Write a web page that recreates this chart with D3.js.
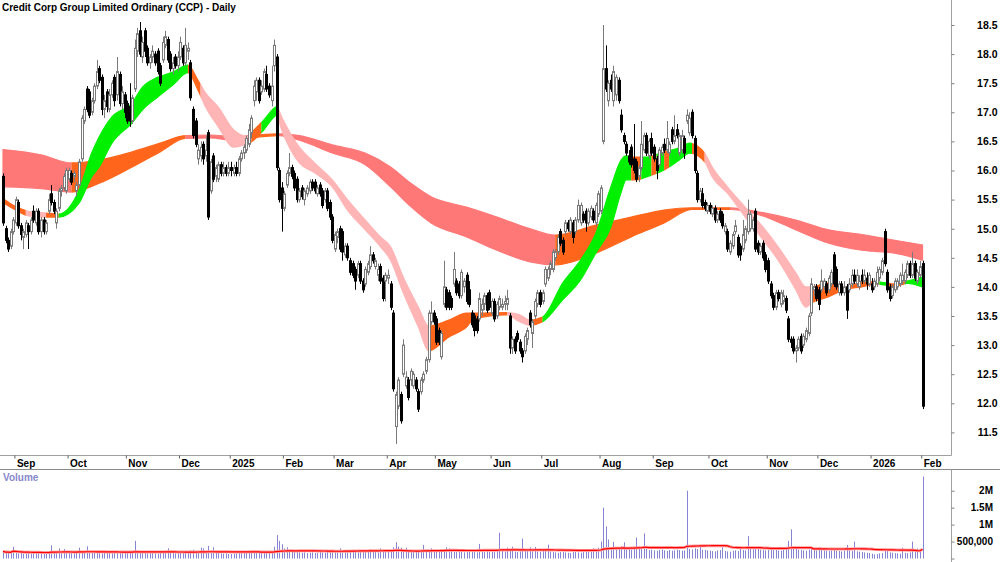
<!DOCTYPE html>
<html>
<head>
<meta charset="utf-8">
<script src="https://cdn.jsdelivr.net/npm/d3@7"></script>
<style>
  body { margin: 0; background: #fff; }
  svg text { font-family: Arial, "Liberation Sans", sans-serif; font-weight: bold; }
</style>
</head>
<body>
<svg id="chart" width="1000" height="562"></svg>
<script>
// trading days per month shown (first month is the partial lead-in, not labelled)
var monthLabels = ['Aug','Sep','Oct','Nov','Dec','2025','Feb','Mar','Apr','May','Jun','Jul','Aug','Sep','Oct','Nov','Dec','2026','Feb'];
var monthDays   = [5,21,23,21,20,21,20,21,19,22,20,23,21,22,23,20,21,20,1];

// daily [open, high, low, close]
var candles = [
  // Aug 2024
  [15.9,15.95,15.05,15.1],[15.0,15.05,14.75,14.8],[14.8,14.85,14.6,14.65],[14.7,15.0,14.65,14.95],[14.95,15.2,14.9,15.15],
  // Sep
  [15.1,15.55,15.05,15.5],[15.45,15.5,15.0,15.05],[15.05,15.1,14.8,14.9],[14.85,15.0,14.65,14.95],[14.9,15.15,14.85,15.1],
  [15.05,15.1,14.65,14.95],[14.95,15.2,14.9,15.15],[15.3,15.4,15.1,15.15],[15.1,15.35,15.05,15.3],[15.3,15.35,14.9,14.95],
  [14.95,15.2,14.85,15.15],[15.15,15.2,14.9,14.95],[14.95,15.15,14.9,15.1],[15.3,15.6,15.25,15.5],[15.6,15.75,15.4,15.45],
  [15.45,15.5,15.25,15.3],[15.1,15.35,15.0,15.3],[15.35,15.7,15.3,15.65],[15.65,15.75,15.55,15.7],[15.7,15.95,15.65,15.9],
  [15.65,16.05,15.6,16.0],
  // Oct
  [15.85,16.05,15.8,16.0],[15.95,16.0,15.75,15.8],[15.9,16.0,15.8,15.95],[15.65,15.8,15.55,15.75],[15.75,16.2,15.7,16.15],
  [16.2,16.95,16.15,16.9],[16.85,17.1,16.8,17.05],[17.4,17.45,17.0,17.05],[17.35,17.4,16.9,16.95],[17.0,17.25,16.95,17.2],
  [17.2,17.5,17.15,17.45],[17.45,17.9,17.4,17.7],[17.75,17.8,17.5,17.55],[17.6,17.65,16.95,17.05],[17.05,17.3,16.9,17.2],
  [17.35,17.4,17.0,17.1],[17.05,17.4,17.0,17.3],[17.3,17.55,17.25,17.5],[17.6,17.65,17.1,17.2],[17.3,17.95,17.2,17.7],
  [17.65,17.7,17.1,17.15],[17.15,17.45,17.05,17.35],[17.3,17.35,16.9,17.0],
  // Nov
  [17.15,17.2,16.8,16.85],[17.1,17.5,16.75,16.85],[16.85,17.3,16.8,17.25],[17.4,18.25,17.35,18.1],[18.05,18.45,17.95,18.35],
  [18.4,18.55,17.95,18.0],[17.95,18.3,17.85,18.2],[18.4,18.45,17.95,18.05],[18.1,18.15,17.8,17.85],[17.85,18.0,17.75,17.95],
  [17.95,18.15,17.85,18.05],[18.0,18.05,17.8,17.85],[18.05,18.1,17.65,17.7],[17.8,17.85,17.45,17.5],[17.9,18.3,17.85,18.2],
  [18.15,18.4,18.1,18.3],[18.25,18.3,17.85,17.9],[18.0,18.05,17.7,17.75],[17.75,17.95,17.65,17.85],[17.95,18.0,17.75,17.8],
  [17.8,18.05,17.7,17.95],
  // Dec
  [17.95,18.3,17.9,18.2],[18.1,18.15,17.8,17.85],[17.85,18.45,17.8,18.15],[18.05,18.2,17.9,18.1],[17.85,17.9,17.2,17.25],
  [17.05,17.1,16.55,16.6],[16.85,16.9,16.4,16.45],[16.2,16.45,16.1,16.35],[16.25,16.5,16.15,16.4],[16.45,16.5,16.1,16.2],
  [16.25,16.6,16.15,16.35],[16.65,16.7,15.15,15.2],[15.65,16.2,15.6,16.15],[16.25,16.3,15.8,15.85],[15.9,16.1,15.8,16.05],
  [15.85,16.15,15.8,16.1],[16.1,16.15,15.9,15.95],[15.95,16.15,15.9,16.05],[16.05,16.1,15.9,15.95],[15.95,16.15,15.9,16.05],
  // Jan 2025
  [16.05,16.15,15.9,16.0],[15.95,16.1,15.9,16.05],[16.05,16.15,15.9,15.95],[15.95,16.25,15.9,16.2],[16.2,16.35,16.15,16.3],
  [16.3,16.45,16.2,16.4],[16.35,16.6,16.3,16.55],[16.45,16.8,16.4,16.7],[16.65,16.95,16.55,16.9],[17.2,17.55,17.1,17.45],
  [17.35,17.6,17.2,17.55],[17.55,17.6,17.15,17.2],[17.35,17.55,17.3,17.45],[17.4,17.75,17.35,17.7],[17.65,17.8,17.35,17.4],
  [17.45,17.5,17.25,17.3],[17.2,17.8,17.1,17.45],[17.8,18.25,17.7,18.15],[17.95,18.0,16.0,16.05],[16.0,16.05,15.45,15.5],
  [15.7,15.8,14.95,15.35],
  // Feb
  [15.35,15.65,15.3,15.6],[15.75,16.0,15.7,15.95],[15.95,16.3,15.9,16.05],[16.05,16.1,15.85,15.9],[15.95,16.0,15.65,15.7],
  [15.85,15.9,15.45,15.5],[15.5,15.7,15.45,15.65],[15.7,15.75,15.5,15.55],[15.5,15.7,15.4,15.65],[15.6,15.75,15.55,15.7],
  [15.65,15.85,15.6,15.8],[15.8,15.85,15.65,15.7],[15.8,15.85,15.6,15.65],[15.6,15.75,15.55,15.7],[15.75,15.8,15.55,15.6],
  [15.65,15.7,15.35,15.4],[15.5,15.7,15.45,15.65],[15.65,15.7,15.3,15.35],[15.45,15.5,15.15,15.2],[15.2,15.25,14.75,14.8],
  // Mar
  [14.65,14.95,14.6,14.9],[14.85,15.0,14.75,14.95],[15.0,15.05,14.6,14.65],[14.95,15.0,14.45,14.6],[14.55,14.75,14.5,14.7],
  [14.7,14.75,14.45,14.5],[14.45,14.5,14.2,14.25],[14.4,14.45,14.15,14.2],[14.3,14.35,13.95,14.1],[14.2,14.45,14.15,14.4],
  [14.4,14.45,14.05,14.1],[14.1,14.15,13.9,13.95],[14.05,14.35,14.0,14.3],[14.25,14.45,14.2,14.4],[14.35,14.7,14.3,14.55],
  [14.55,14.6,14.4,14.45],[14.35,14.5,14.3,14.45],[14.2,14.4,14.1,14.3],[14.35,14.4,14.05,14.1],[14.15,14.2,13.75,13.8],
  [14.1,14.25,13.75,14.2],
  // Apr
  [14.15,14.3,14.05,14.2],[14.05,14.1,13.6,13.65],[13.55,13.6,12.2,12.25],[11.6,12.2,11.3,12.15],[11.95,12.45,11.9,12.4],
  [12.15,12.2,11.65,11.7],[12.5,13.1,12.45,13.0],[12.3,12.55,12.25,12.45],[12.4,12.45,12.05,12.1],[12.4,12.6,12.3,12.55],
  [12.3,12.55,12.25,12.5],[12.4,12.45,12.2,12.25],[12.2,12.25,11.85,11.9],[12.2,12.45,12.15,12.4],[12.4,12.55,12.35,12.5],
  [12.55,12.8,12.5,12.75],[12.75,13.6,12.7,13.55],[13.4,13.75,13.35,13.55],[13.55,13.6,13.35,13.4],
  // May
  [13.45,13.5,13.0,13.05],[13.25,13.3,13.0,13.05],[12.8,13.25,12.75,13.2],[13.7,14.45,13.65,14.0],[13.95,14.0,13.6,13.65],
  [13.9,13.95,13.6,13.65],[13.8,13.85,13.6,13.65],[14.05,14.6,14.0,14.3],[14.1,14.15,13.85,13.9],[14.05,14.1,13.8,13.85],
  [13.85,14.3,13.8,14.25],[14.0,14.15,13.9,14.1],[14.2,14.25,13.7,13.75],[13.95,14.1,13.65,13.7],[13.55,13.6,13.3,13.35],
  [13.5,13.55,13.15,13.25],[13.45,13.5,13.2,13.25],[13.45,13.9,13.4,13.8],[13.6,13.8,13.5,13.7],[13.7,13.9,13.6,13.85],
  [13.85,13.9,13.55,13.6],[13.9,13.95,13.6,13.65],
  // Jun
  [13.55,13.8,13.5,13.75],[13.75,13.8,13.4,13.45],[13.5,13.75,13.45,13.7],[13.65,13.85,13.6,13.8],[13.65,13.8,13.6,13.7],
  [13.7,13.85,13.6,13.75],[13.7,13.95,13.6,13.8],[13.5,13.55,12.85,12.95],[12.95,13.15,12.85,13.1],[13.1,13.15,12.85,12.9],
  [13.2,13.25,13.05,13.1],[13.05,13.1,12.85,12.9],[12.9,12.95,12.7,12.8],[12.9,13.2,12.85,13.15],[13.1,13.3,13.0,13.25],
  [13.55,13.6,13.3,13.35],[13.2,13.45,12.95,13.4],[13.5,13.8,13.45,13.75],[13.7,13.95,13.65,13.9],[13.9,13.95,13.65,13.7],
  // Jul
  [13.75,13.95,13.7,13.9],[14.05,14.35,14.0,14.3],[14.15,14.35,14.1,14.3],[14.3,14.45,14.2,14.4],[14.3,14.65,14.25,14.6],
  [14.5,14.65,14.45,14.6],[14.6,14.9,14.55,14.85],[14.95,15.0,14.7,14.75],[14.8,14.85,14.55,14.6],[14.95,15.15,14.9,15.1],
  [15.1,15.15,14.95,15.0],[14.95,15.2,14.9,15.15],[15.1,15.15,14.75,14.85],[14.95,15.2,14.9,15.15],[15.15,15.5,15.1,15.4],
  [15.1,15.45,15.05,15.4],[15.25,15.3,15.1,15.15],[15.3,15.35,14.95,15.1],[15.1,15.35,15.05,15.3],[15.2,15.4,15.15,15.35],
  [15.3,15.35,15.1,15.15],[15.1,15.45,15.05,15.4],[15.25,15.65,15.2,15.6],
  // Aug
  [15.3,15.75,15.25,15.7],[16.5,18.5,16.45,17.75],[17.75,18.15,17.35,17.4],[17.2,17.55,17.1,17.5],[17.55,17.65,17.35,17.4],
  [17.2,17.8,17.1,17.7],[17.3,17.65,17.2,17.6],[17.55,17.6,17.15,17.2],[16.95,17.05,16.65,16.7],[16.6,16.65,16.45,16.5],
  [16.45,16.5,16.25,16.3],[16.25,16.35,16.1,16.15],[16.4,16.45,16.05,16.1],[16.2,16.8,15.95,16.0],[16.15,16.2,15.8,15.85],
  [15.9,16.1,15.8,16.05],[16.05,16.85,16.0,16.45],[16.35,16.65,16.3,16.6],[16.6,16.65,16.25,16.3],[16.25,16.55,16.2,16.5],
  [16.55,16.65,16.25,16.3],
  // Sep
  [16.4,16.45,16.15,16.2],[16.2,16.25,15.85,16.0],[16.1,16.4,16.05,16.35],[16.3,16.45,16.25,16.4],[16.45,16.55,16.3,16.35],
  [16.35,16.85,16.3,16.55],[16.3,16.5,16.25,16.45],[16.7,16.75,16.45,16.5],[16.5,16.95,16.45,16.6],[16.7,16.8,16.55,16.6],
  [16.3,16.65,16.25,16.6],[16.35,16.7,16.3,16.6],[16.55,16.6,16.2,16.3],[16.85,17.05,16.8,16.95],[16.65,17.0,16.6,16.9],
  [17.0,17.05,16.55,16.6],[16.55,16.6,15.95,16.0],[15.95,16.0,15.45,15.5],[15.5,15.7,15.45,15.65],[15.6,15.7,15.35,15.4],
  [15.45,15.5,15.3,15.35],[15.3,15.45,15.25,15.4],
  // Oct
  [15.4,15.45,15.25,15.3],[15.25,15.4,15.2,15.35],[15.35,15.4,15.1,15.15],[15.15,15.3,15.1,15.25],[15.3,15.35,15.1,15.15],
  [15.25,15.3,15.0,15.05],[14.95,15.1,14.9,15.05],[14.95,15.0,14.6,14.65],[14.6,14.8,14.55,14.75],[14.7,14.95,14.65,14.9],
  [14.95,15.15,14.9,15.05],[14.85,14.9,14.5,14.55],[14.7,14.75,14.45,14.55],[14.65,15.15,14.6,14.9],[14.8,15.05,14.75,15.0],
  [14.95,15.5,14.9,15.25],[15.0,15.3,14.95,15.25],[15.0,15.2,14.95,15.15],[15.3,15.35,14.6,14.65],[14.75,14.8,14.55,14.6],
  [14.6,14.75,14.55,14.7],[14.75,14.8,14.45,14.5],[14.55,14.6,14.25,14.3],
  // Nov
  [14.45,14.5,14.05,14.1],[14.05,14.1,13.8,13.85],[13.85,13.9,13.6,13.65],[13.65,13.95,13.6,13.9],[13.9,13.95,13.75,13.8],
  [13.7,13.95,13.65,13.9],[13.75,13.95,13.7,13.85],[13.8,13.85,13.55,13.6],[13.45,13.5,13.05,13.1],[13.1,13.15,12.95,13.05],
  [13.1,13.15,12.85,12.9],[12.9,13.0,12.7,12.95],[12.95,13.15,12.9,13.1],[13.15,13.2,12.85,12.9],[13.0,13.2,12.95,13.15],
  [13.1,13.3,13.05,13.25],[13.2,13.55,13.15,13.5],[13.55,14.15,13.5,14.05],[13.95,14.05,13.85,14.0],[14.0,14.05,13.75,13.8],
  // Dec
  [13.95,14.0,13.6,13.7],[13.95,14.3,13.9,14.1],[14.0,14.15,13.95,14.1],[14.05,14.1,13.85,13.9],[13.95,14.2,13.9,14.15],
  [14.05,14.3,14.0,14.25],[14.55,14.6,14.0,14.05],[14.3,14.35,13.95,14.0],[13.9,14.1,13.85,14.05],[14.05,14.1,13.85,13.9],
  [13.9,14.1,13.85,14.0],[14.0,14.05,13.45,13.6],[13.95,14.15,13.9,14.05],[14.05,14.3,14.0,14.2],[14.2,14.3,14.05,14.1],
  [14.05,14.3,14.0,14.2],[14.0,14.2,13.95,14.1],[14.2,14.3,14.05,14.1],[14.1,14.3,14.05,14.2],[14.15,14.25,13.95,14.05],
  [14.05,14.25,14.0,14.2],
  // Jan 2026
  [14.05,14.15,13.9,13.95],[14.0,14.15,13.95,14.1],[14.05,14.35,14.0,14.25],[14.15,14.35,14.1,14.3],[14.25,14.5,14.2,14.45],
  [14.95,15.0,14.35,14.4],[14.25,14.3,13.9,13.95],[14.0,14.05,13.75,13.8],[13.85,14.05,13.8,14.0],[13.95,14.15,13.9,14.1],
  [14.0,14.15,13.95,14.1],[14.05,14.25,14.0,14.2],[14.1,14.4,14.05,14.2],[14.1,14.3,14.05,14.25],[14.2,14.45,14.15,14.4],
  [14.4,14.45,14.15,14.2],[14.2,14.6,14.15,14.4],[14.4,14.45,14.1,14.15],[14.1,14.3,14.05,14.25],[14.2,14.45,14.15,14.35],
  // Feb
  [14.4,14.45,11.9,11.95]
];

// daily volume, thousands of shares
var volumeK = [
  210,170,190,160,345,
  180,150,170,140,160,190,150,170,160,180,140,150,170,160,390,180,200,300,170,280,190,
  170,160,150,180,320,200,190,360,210,180,170,190,160,150,170,180,160,150,170,180,160,150,170,
  160,180,170,520,230,190,170,160,150,170,160,150,140,160,170,180,300,180,160,150,170,
  170,160,180,190,240,260,220,190,320,300,210,370,230,330,180,160,150,140,150,130,
  130,140,150,160,170,180,170,190,200,210,190,180,170,200,190,180,200,350,690,520,420,
  300,330,250,220,200,190,180,170,180,160,170,180,160,170,190,180,170,200,210,240,
  220,200,300,230,200,210,190,200,220,180,190,200,210,190,280,200,190,180,300,220,210,
  200,230,330,480,350,320,260,320,230,210,200,190,220,230,400,210,240,300,220,
  230,200,210,220,330,300,220,200,190,210,200,180,190,200,210,190,180,430,200,190,280,200,
  200,190,210,760,230,200,320,260,350,200,190,210,590,240,220,330,210,340,200,190,
  220,230,410,200,190,180,170,190,200,180,170,160,190,200,180,170,190,200,210,190,300,220,320,
  500,1500,950,560,330,490,330,300,360,480,280,300,260,350,620,360,300,740,280,250,260,
  240,230,250,260,240,220,250,230,240,260,250,230,240,2000,280,270,300,280,350,260,250,240,
  230,220,210,240,250,330,220,210,200,230,240,220,330,250,240,660,300,270,280,350,260,250,240,
  260,280,270,250,240,230,260,280,520,860,300,280,260,250,240,230,260,280,250,240,
  330,250,240,230,220,240,260,230,220,210,230,400,240,220,500,210,200,190,180,170,160,
  140,120,130,150,160,300,220,180,170,160,150,140,320,170,160,180,500,190,300,200,
  2420
];
var VOLUME_AVG_DAYS = 50;

// moving-average ribbons: [bar index, first average, second average]
var longBand = [
  [0,16.36,15.72],[15,16.27,15.69],[27,16.13,15.63],[38,16.18,15.78],[51,16.32,16.06],[62,16.47,16.32],
  [72,16.6,16.55],[82,16.61,16.56],[91,16.58,16.52],[98,16.6,16.56],[109,16.63,16.6],[117,16.6,16.52],
  [130,16.44,16.3],[143,16.3,16.1],[153,16.06,15.72],[161,15.78,15.38],[169,15.55,15.1],[183,15.37,14.86],
  [195,15.2,14.63],[208,15.0,14.43],[218,14.89,14.38],[234,15.06,14.58],[248,15.2,14.86],[261,15.32,15.1],
  [272,15.36,15.33],[287,15.36,15.33],[297,15.3,15.26],[313,15.15,14.98],[326,14.98,14.75],[339,14.9,14.63],
  [352,14.8,14.58],[363,14.72,14.46]
];
var longRuns = [[0,27,'fall'],[27,72,'rise'],[72,98,'fall'],[98,109,'rise'],[109,218,'fall'],[218,287,'rise'],[287,363,'fall']];

var shortBand = [
  [0,15.52,15.45],[5,15.38,15.32],[10,15.3,15.22],[17,15.27,15.2],[22,15.25,15.2],[30,15.66,15.44],
  [35,16.3,15.89],[38,16.58,16.06],[43,16.92,16.47],[51,17.16,16.82],[55,17.43,17.04],[61,17.6,17.26],
  [67,17.69,17.47],[73,17.81,17.68],[77,17.55,17.38],[80,17.33,17.09],[85,17.09,16.75],[91,16.7,16.4],
  [97,16.58,16.47],[98,16.64,16.49],[103,16.87,16.7],[107,17.07,16.92],[108,17.1,16.95],[110,16.92,16.7],
  [117,16.4,16.13],[123,16.13,15.96],[130,15.84,15.72],[136,15.5,15.32],[143,15.15,14.98],[149,14.86,14.69],
  [153,14.69,14.46],[158,14.17,13.9],[164,13.65,13.31],[168,13.33,12.9],[176,13.43,13.14],[183,13.55,13.31],
  [186,13.55,13.45],[199,13.56,13.52],[204,13.52,13.4],[208,13.43,13.34],[213,13.48,13.4],[221,14.07,13.78],
  [228,14.46,14.12],[234,14.92,14.58],[240,15.72,15.03],[244,16.18,15.62],[246,16.25,15.84],[250,16.23,15.84],
  [254,16.23,15.89],[261,16.32,16.01],[267,16.39,16.18],[271,16.47,16.3],[277,16.3,16.15],[280,16.06,15.89],
  [286,15.72,15.61],[293,15.37,15.2],[300,15.03,14.81],[306,14.69,14.46],[313,14.24,13.95],[317,14.0,13.65],
  [319,14.0,13.72],[326,14.07,13.83],[332,13.99,13.95],[339,14.08,14.0],[345,14.09,14.05],[352,14.05,14.01],
  [357,14.1,14.06],[363,14.17,14.0]
];
var shortRuns = [
  [0,9,'rise'],[9,17,'fall'],[17,22,'rise'],[22,73,'strong'],[73,78,'rise'],[78,98,'fall'],[98,102,'rise'],
  [102,108,'strong'],[108,168,'fall'],[168,199,'rise'],[199,208,'fall'],[208,213,'rise'],[213,248,'strong'],
  [248,252,'rise'],[252,256,'strong'],[256,258,'rise'],[258,261,'strong'],[261,263,'rise'],[263,272,'strong'],
  [272,277,'rise'],[277,319,'fall'],[319,346,'rise'],[346,349,'strong'],[349,356,'rise'],[356,363,'strong']
];

var priceTicks = d3.range(11.5, 18.51, 0.5);
var volumeTicks = [0, 500000, 1000000, 1500000, 2000000];
var volumeTickLabels = ['', '500,000', '1M', '1.5M', '2M'];

var longColors = { fall: '#ff7878', rise: '#ff661c' };
var shortColors = { fall: '#ffb5b5', rise: '#ff661c', strong: '#00f000' };

var PANE_RIGHT = 951.5, DATE_AXIS_Y = 455.5, VOL_TOP = 469.5;
var svg = d3.select('#chart');
var n = candles.length;

var x = d3.scaleLinear().domain([0, n - 1]).range([3, 922.5]);
var y = d3.scaleLinear().domain([11.5, 18.5]).range([432.4, 25]);
var yv = d3.scaleLinear().domain([0, 2000000]).range([558.5, 490.7]);

var monthStarts = [];
monthDays.reduce(function(acc, d) { monthStarts.push(acc); return acc + d; }, 0);

var defs = svg.append('defs');
defs.append('clipPath').attr('id', 'priceClip')
  .append('rect').attr('x', 0).attr('y', 0).attr('width', PANE_RIGHT).attr('height', DATE_AXIS_Y);

// ribbons, one path per colour run clipped to its span
function drawBand(points, runs, colors, id) {
  var area = d3.area()
      .x(function(d) { return x(d[0]); })
      .y0(function(d) { return y(d[2]); })
      .y1(function(d) { return y(d[1]); })
      .curve(d3.curveMonotoneX);
  var g = svg.append('g').attr('clip-path', 'url(#priceClip)');
  runs.forEach(function(r, k) {
    var x0 = r[0] === 0 ? 0 : x(r[0]),
        x1 = r[1] === n - 1 ? PANE_RIGHT : x(r[1]);
    defs.append('clipPath').attr('id', id + k)
      .append('rect').attr('x', x0).attr('y', 0).attr('width', x1 - x0).attr('height', DATE_AXIS_Y);
    g.append('path').datum(points)
      .attr('d', area)
      .attr('fill', colors[r[2]])
      .attr('stroke', colors[r[2]])
      .attr('stroke-width', 1.2)
      .attr('clip-path', 'url(#' + id + k + ')');
  });
}
drawBand(longBand, longRuns, longColors, 'longRun');
drawBand(shortBand, shortRuns, shortColors, 'shortRun');

// candles
var cg = svg.append('g').attr('clip-path', 'url(#priceClip)');
var bars = cg.selectAll('g.candle')
  .data(candles)
  .enter()
  .append('g')
    .attr('class', 'candle');
bars.append('line')
  .attr('x1', function(d, i) { return Math.round(x(i)) + 0.5; })
  .attr('x2', function(d, i) { return Math.round(x(i)) + 0.5; })
  .attr('y1', function(d) { return y(d[1]); })
  .attr('y2', function(d) { return y(d[2]); })
  .attr('stroke', function(d) { return d[3] >= d[0] ? '#7a7a7a' : '#000'; })
  .attr('stroke-width', 1);
bars.append('rect')
  .attr('x', function(d, i) { return Math.round(x(i)) - 0.5; })
  .attr('y', function(d) { return y(Math.max(d[0], d[3])); })
  .attr('width', 2)
  .attr('height', function(d) { return Math.max(0.5, Math.abs(y(d[0]) - y(d[3]))); })
  .attr('fill', function(d) { return d[3] >= d[0] ? '#fff' : '#000'; })
  .attr('stroke', function(d) { return d[3] >= d[0] ? '#7a7a7a' : '#000'; })
  .attr('stroke-width', 1);

// frame lines
svg.append('line').attr('x1', 0).attr('x2', PANE_RIGHT).attr('y1', DATE_AXIS_Y).attr('y2', DATE_AXIS_Y)
  .attr('stroke', '#a0a0a0');
svg.append('line').attr('x1', 0).attr('x2', 1000).attr('y1', VOL_TOP).attr('y2', VOL_TOP)
  .attr('stroke', '#8a8a8a');
svg.append('line').attr('x1', PANE_RIGHT).attr('x2', PANE_RIGHT).attr('y1', 0).attr('y2', DATE_AXIS_Y)
  .attr('stroke', '#a0a0a0');
svg.append('line').attr('x1', PANE_RIGHT).attr('x2', PANE_RIGHT).attr('y1', VOL_TOP).attr('y2', 562)
  .attr('stroke', '#a0a0a0');

// price axis
var py = svg.append('g')
  .attr('transform', 'translate(' + PANE_RIGHT + ',0)')
  .call(d3.axisRight(y).tickValues(priceTicks).tickSize(3).tickFormat(d3.format('.1f')));
py.select('.domain').remove();
py.selectAll('.tick line').attr('stroke', '#808080');
py.selectAll('.tick text')
  .attr('x', 46).attr('text-anchor', 'end').attr('fill', '#000')
  .style('font-size', '10.5px');

// date axis
var dx = svg.append('g')
  .attr('transform', 'translate(0,' + DATE_AXIS_Y + ')')
  .call(d3.axisBottom(x)
    .tickValues(monthStarts.slice(1).map(function(s) { return s - 0.5; }))
    .tickSize(3)
    .tickFormat(function(d, i) { return monthLabels[i + 1]; }));
dx.select('.domain').remove();
dx.selectAll('.tick line').attr('stroke', '#606060');
dx.selectAll('.tick text')
  .attr('x', 2).attr('y', 4).attr('dy', '0.71em')
  .attr('text-anchor', 'start').attr('fill', '#000')
  .style('font-size', '10px');

// volume
var volumes = volumeK.map(function(v) { return v * 1000; });
svg.append('g').selectAll('rect')
  .data(volumes)
  .enter()
  .append('rect')
    .attr('x', function(d, i) { return Math.round(x(i)); })
    .attr('y', function(d) { return yv(d); })
    .attr('width', 1)
    .attr('height', function(d) { return yv(0) - yv(d); })
    .attr('fill', '#8585d4');

var volAvg = volumes.map(function(v, i) {
  return d3.mean(volumes.slice(Math.max(0, i - VOLUME_AVG_DAYS + 1), i + 1));
});
var avgLine = d3.line()
  .x(function(d, i) { return x(i); })
  .y(function(d) { return yv(d); });
svg.append('path').datum(volAvg)
  .attr('d', avgLine).attr('fill', 'none').attr('stroke', '#ff9c9c').attr('stroke-width', 3);
svg.append('path').datum(volAvg)
  .attr('d', avgLine).attr('fill', 'none').attr('stroke', '#ff0000').attr('stroke-width', 1.2);

var vy = svg.append('g')
  .attr('transform', 'translate(' + PANE_RIGHT + ',0)')
  .call(d3.axisRight(yv).tickValues(volumeTicks).tickSize(3)
    .tickFormat(function(d, i) { return volumeTickLabels[i]; }));
vy.select('.domain').remove();
vy.selectAll('.tick line').attr('stroke', '#808080');
vy.selectAll('.tick text')
  .attr('x', 41.5).attr('text-anchor', 'end').attr('fill', '#000')
  .style('font-size', '10px');

// titles
svg.append('text').attr('x', 2).attr('y', 11)
  .style('font-size', '10px').attr('fill', '#000')
  .text('Credit Corp Group Limited Ordinary (CCP) - Daily');
svg.append('text').attr('x', 3).attr('y', 481)
  .style('font-size', '10px').attr('fill', '#8888cc')
  .text('Volume');
</script>
</body>
</html>
